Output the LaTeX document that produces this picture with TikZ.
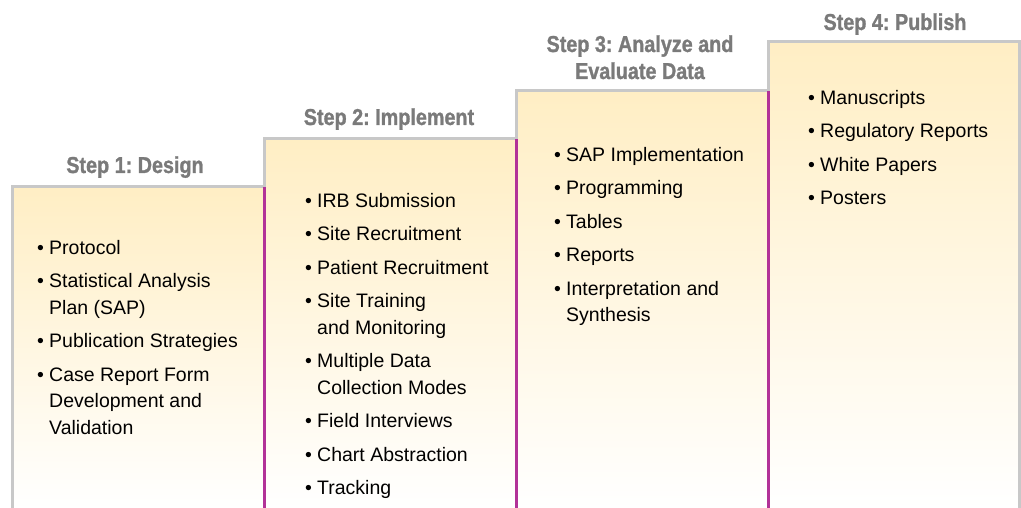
\documentclass[tikz,border=0pt]{standalone}
\usepackage{fontspec}
\setmainfont{Liberation Sans}
\newfontfamily\headfont{Liberation Sans Bold}[FakeStretch=0.86, FakeBold=1.2]
\frenchspacing
\definecolor{stepfill}{RGB}{255,238,196}
\definecolor{stepline}{RGB}{200,200,200}
\definecolor{steppurple}{RGB}{178,50,152}
\definecolor{stephead}{RGB}{122,122,122}
\newcommand{\stepbul}{\makebox[12pt][l]{\textbullet}}
\newcommand{\stepind}{\hspace*{12pt}}
\tikzset{
  stepbox/.style={top color=stepfill, bottom color=white, draw=none},
  greyline/.style={draw=stepline, line width=3pt},
  purpleline/.style={draw=steppurple, line width=3pt},
  stephead/.style={anchor=base, inner sep=0pt, align=center, text=stephead,
    font={\headfont\fontsize{23}{27}\selectfont}},
  steplist/.style={anchor=north west, inner sep=0pt, align=left,
    font={\fontsize{19.5}{26.5}\selectfont}},
}
\begin{document}
\begin{tikzpicture}[x=1pt,y=-1pt]
\useasboundingbox (0,0) rectangle (1021,508);
% step 1
\fill[stepbox] (12,508) rectangle (264,187);
\draw[greyline] (12.5,508) -- (12.5,187) -- (264,187);
% step 2
\fill[stepbox] (264,508) rectangle (516,139);
\draw[greyline] (264,187) -- (264,139) -- (516,139);
\draw[purpleline] (264,508) -- (264,187);
% step 3
\fill[stepbox] (516,508) rectangle (768,91);
\draw[greyline] (516,139) -- (516,91) -- (768,91);
\draw[purpleline] (516,508) -- (516,139);
% step 4
\fill[stepbox] (768,508) rectangle (1019.5,42);
\draw[greyline] (768,91) -- (768,42) -- (1019.5,42) -- (1019.5,508);
\draw[purpleline] (768,508) -- (768,91);
% headings
\node[stephead] (head1) at (135,173) {Step 1: Design};
\node[stephead] (head2) at (389,125) {Step 2: Implement};
\node[stephead] (head3) at (640,79) {Step 3: Analyze and\\Evaluate Data};
\node[stephead] (head4) at (895,30) {Step 4: Publish};
% lists
\node[steplist] (list1) at (37,240) {\stepbul Protocol\\[7pt]
  \stepbul Statistical Analysis\\ \stepind Plan (SAP)\\[7pt]
  \stepbul Publication Strategies\\[7pt]
  \stepbul Case Report Form\\ \stepind Development and\\ \stepind Validation};
\node[steplist] (list2) at (305,193) {\stepbul IRB Submission\\[7pt]
  \stepbul Site Recruitment\\[7pt]
  \stepbul Patient Recruitment\\[7pt]
  \stepbul Site Training\\ \stepind and Monitoring\\[7pt]
  \stepbul Multiple Data\\ \stepind Collection Modes\\[7pt]
  \stepbul Field Interviews\\[7pt]
  \stepbul Chart Abstraction\\[7pt]
  \stepbul Tracking};
\node[steplist] (list3) at (554,147) {\stepbul SAP Implementation\\[7pt]
  \stepbul Programming\\[7pt]
  \stepbul Tables\\[7pt]
  \stepbul Reports\\[7pt]
  \stepbul Interpretation and\\ \stepind Synthesis};
\node[steplist] (list4) at (808,90) {\stepbul Manuscripts\\[7pt]
  \stepbul Regulatory Reports\\[7pt]
  \stepbul White Papers\\[7pt]
  \stepbul Posters};
\end{tikzpicture}
\end{document}
